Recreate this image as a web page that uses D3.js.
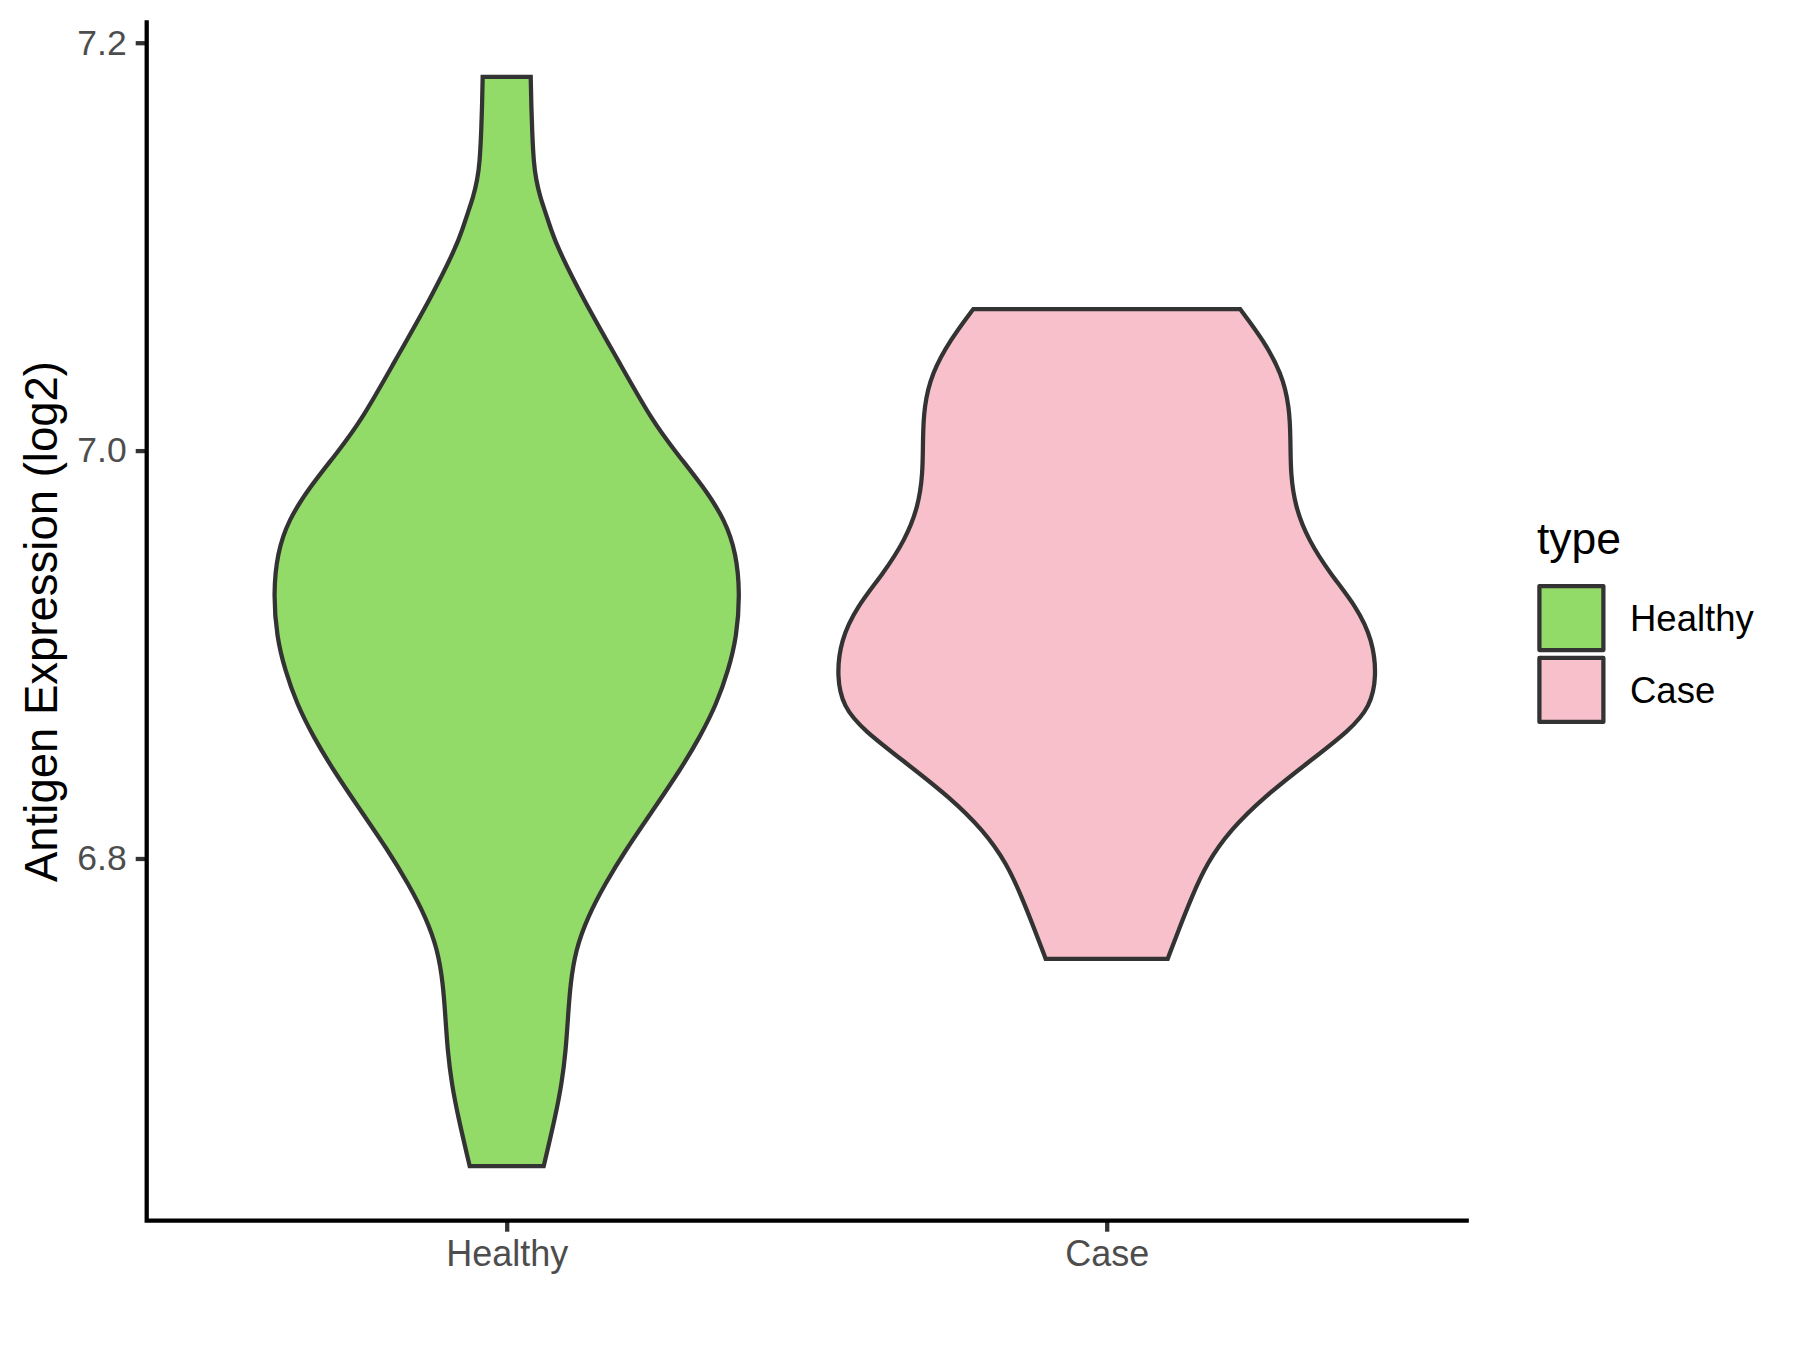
<!DOCTYPE html>
<html>
<head>
<meta charset="utf-8">
<script src="https://cdn.jsdelivr.net/npm/d3@7"></script>
<style>
  html, body { margin: 0; padding: 0; background: #ffffff; }
  svg { display: block; }
</style>
</head>
<body>
<svg id="chart" width="1800" height="1350"></svg>
<script>
// ---- data ----
const categories = ["Healthy", "Case"];
const colors = ["#93DB69", "#F7C0CB"];

// density profile of each violin: expression value and relative half-width (1 = widest violin)
const healthyValues = [7.1833, 7.1700, 7.1572, 7.1410, 7.1327, 7.1243, 7.1166, 7.1081, 7.1000, 7.0755,
  7.0428, 7.0150, 6.9986, 6.9822, 6.9659, 6.9496, 6.9300, 6.9087, 6.8923, 6.8760,
  6.8596, 6.8433, 6.8253, 6.8041, 6.7877, 6.7714, 6.7550, 6.7387, 6.7223, 6.7060,
  6.6897, 6.6733, 6.6491];
const healthyDensity = [0.089, 0.091, 0.094, 0.100, 0.109, 0.124, 0.144, 0.165, 0.187, 0.278,
  0.419, 0.537, 0.630, 0.729, 0.809, 0.850, 0.864, 0.852, 0.821, 0.778,
  0.716, 0.642, 0.550, 0.440, 0.365, 0.300, 0.255, 0.236, 0.227, 0.219,
  0.204, 0.180, 0.137];

const caseValues = [7.0694, 7.0542, 7.0379, 7.0215, 7.0051, 6.9888, 6.9724, 6.9561, 6.9398, 6.9234,
  6.9071, 6.8891, 6.8744, 6.8629, 6.8466, 6.8302, 6.8139, 6.7975, 6.7812, 6.7648, 6.7508];
const caseDensity = [0.494, 0.580, 0.648, 0.677, 0.681, 0.681, 0.698, 0.747, 0.827, 0.926,
  0.985, 1.000, 0.976, 0.901, 0.741, 0.583, 0.457, 0.370, 0.315, 0.266, 0.226];

const yTicks = [6.8, 7.0, 7.2];
const yTitle = "Antigen Expression (log2)";
const legendTitle = "type";

// ---- layout ----
const svg = d3.select("#chart");
const panel = { left: 146.7, right: 1466.7, top: 22.3, bottom: 1220.7 };
const FONT = "'Liberation Sans', Arial, Helvetica, sans-serif";
const LW = 4.27;

const groups = [
  { name: categories[0], color: colors[0], values: healthyValues, density: healthyDensity },
  { name: categories[1], color: colors[1], values: caseValues, density: caseDensity }
];

const allVals = healthyValues.concat(caseValues);
const vmin = d3.min(allVals), vmax = d3.max(allVals);
const pad = (vmax - vmin) * 0.05;

const x = d3.scalePoint().domain(categories).range([panel.left, panel.right]).padding(0.6);
const y = d3.scaleLinear().domain([vmin - pad, vmax + pad]).range([panel.bottom, panel.top]);
const w = d3.scaleLinear().domain([0, 1]).range([0, x.step() * 0.45]);

// ---- violins ----
groups.forEach(g => {
  const pts = g.values.map((v, i) => ({ v: v, d: g.density[i] }));
  const cx = x(g.name);
  const area = d3.area()
    .y(d => y(d.v))
    .x0(d => cx - w(d.d))
    .x1(d => cx + w(d.d))
    .curve(d3.curveBasis);
  svg.append("path")
    .datum(pts)
    .attr("d", area)
    .attr("fill", g.color)
    .attr("stroke", "#333333")
    .attr("stroke-width", LW)
    .attr("stroke-linejoin", "miter");
});

// ---- axes ----
const yAxis = d3.axisLeft(y).tickValues(yTicks).tickFormat(d3.format(".1f")).tickSize(11).tickPadding(9);
const gy = svg.append("g").attr("transform", `translate(${panel.left},0)`).call(yAxis);
gy.select(".domain").remove();
gy.selectAll(".tick line").attr("stroke", "#333333").attr("stroke-width", LW);
gy.selectAll(".tick text").attr("fill", "#4D4D4D").style("font-family", FONT).style("font-size", "35.5px");

const xAxis = d3.axisBottom(x).tickSize(11).tickPadding(9);
const gx = svg.append("g").attr("transform", `translate(0,${panel.bottom})`).call(xAxis);
gx.select(".domain").remove();
gx.selectAll(".tick line").attr("stroke", "#333333").attr("stroke-width", LW);
gx.selectAll(".tick text").attr("fill", "#4D4D4D").style("font-family", FONT).style("font-size", "36px");

// axis lines
svg.append("path")
  .attr("d", `M${panel.left},${panel.top}V${panel.bottom}H${panel.right}`)
  .attr("fill", "none").attr("stroke", "#000000").attr("stroke-width", LW)
  .attr("stroke-linecap", "square").attr("stroke-linejoin", "miter");

// y title
svg.append("text")
  .attr("transform", `translate(56.5,${(panel.top + panel.bottom) / 2}) rotate(-90)`)
  .attr("text-anchor", "middle")
  .style("font-family", FONT).style("font-size", "45.5px").attr("fill", "#000000")
  .text(yTitle);

// ---- legend ----
const lg = svg.append("g");
lg.append("text").attr("x", 1537).attr("y", 554)
  .style("font-family", FONT).style("font-size", "44.5px").attr("fill", "#000000")
  .text(legendTitle);
groups.forEach((g, i) => {
  const top = 586.1 + i * 71.8;
  lg.append("rect").attr("x", 1539.4).attr("y", top).attr("width", 64).attr("height", 64)
    .attr("fill", g.color).attr("stroke", "#333333").attr("stroke-width", LW).attr("stroke-linejoin", "round");
  lg.append("text").attr("x", 1630).attr("y", top + 32).attr("dy", "0.35em")
    .style("font-family", FONT).style("font-size", "36.5px").attr("fill", "#000000")
    .text(g.name);
});
</script>
</body>
</html>
